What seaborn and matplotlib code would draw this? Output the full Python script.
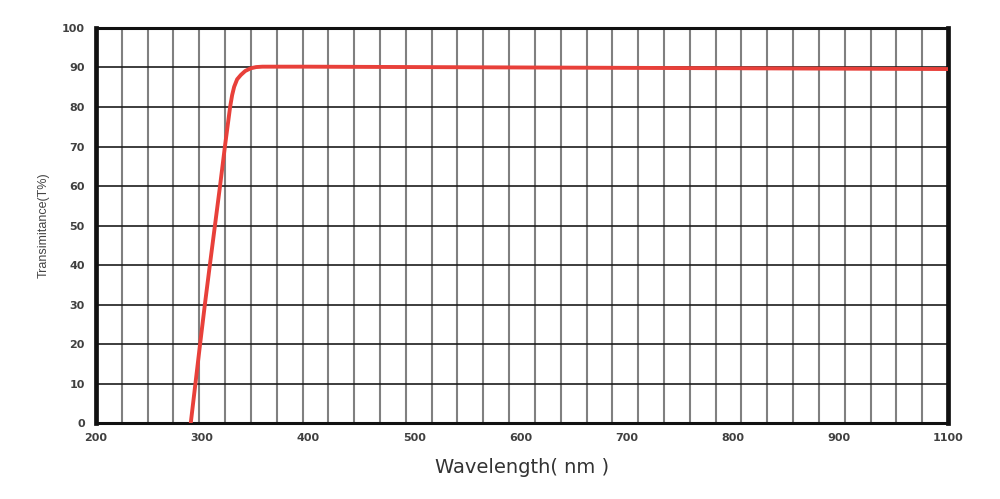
import numpy as np
import pandas as pd
import matplotlib
matplotlib.use("Agg")
import matplotlib.pyplot as plt
import seaborn as sns

# transmittance curve
wavelength = [289.3, 298.1, 302.6, 307.3, 312.1, 316.9, 321.5, 326.4, 328.3,
              330.2, 333.0, 336.5, 340.6, 345.9, 350.9, 356.9, 400, 500,
              600, 700, 800, 900, 1003]
transmittance = [0, 20, 30, 40, 50, 60, 70, 80.0, 83.0,
                 85.1, 87.0, 88.1, 89.1, 89.8, 90.1, 90.2, 90.2, 90.1,
                 90.0, 89.9, 89.8, 89.7, 89.6]

x_ticks = [200, 300, 400, 500, 600, 700, 800, 900, 1003]
x_tick_labels = ["200", "300", "400", "500", "600", "700", "800", "900", "1100"]
y_ticks = [0, 10, 20, 30, 40, 50, 60, 70, 80, 90, 100]

df = pd.DataFrame({"wavelength": wavelength, "T": transmittance})

sns.set_style("white")
plt.rcParams['font.family'] = ['DejaVu Sans']

fig = plt.figure(figsize=(10, 4.99), dpi=100)
ax = fig.add_axes([0.096, 0.152, 0.852, 0.792])

sns.lineplot(data=df, x="wavelength", y="T", ax=ax, color="#e8403a",
             linewidth=2.8, zorder=5)

ax.set_xlim(200, 1003)
ax.set_ylim(0, 100)

# 33 vertical grid cells, 10 horizontal ones
ax.set_xticks(np.linspace(200, 1003, 34), minor=True)
ax.set_xticks(x_ticks)
ax.set_xticklabels(x_tick_labels)
ax.set_yticks(y_ticks)
ax.grid(axis="x", which="minor", color="#808080", linewidth=1.5)
ax.grid(axis="y", which="major", color="#1c1c1c", linewidth=1.2)
ax.tick_params(which="both", length=0)
ax.tick_params(axis="both", labelsize=8, labelcolor="#404040")
for lab in ax.get_xticklabels() + ax.get_yticklabels():
    lab.set_fontweight("bold")
ax.tick_params(axis="x", pad=7)
ax.tick_params(axis="y", pad=8)

for side, lw in [("left", 3.4), ("right", 3.4), ("bottom", 2.2), ("top", 2.2)]:
    ax.spines[side].set_color("#111111")
    ax.spines[side].set_linewidth(lw)
    ax.spines[side].set_visible(True)

ax.set_xlabel("Wavelength( nm )", fontsize=14, color="#333333", labelpad=11)
ax.set_ylabel("Transimitance(T%)", fontsize=9, color="#444444", labelpad=9,
              family="Liberation Sans")

fig.savefig("out.png", dpi=100, facecolor="white")
